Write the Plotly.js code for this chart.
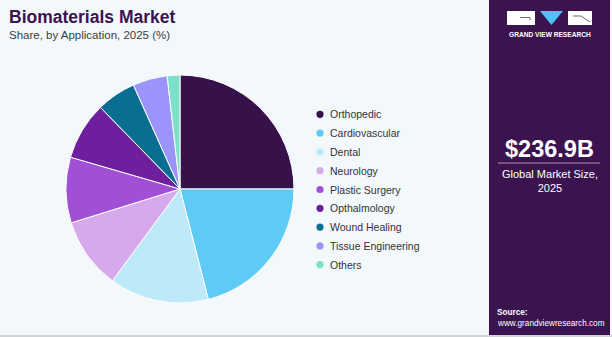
<!DOCTYPE html>
<html>
<head>
<meta charset="utf-8">
<script src="https://cdn.plot.ly/plotly-3.0.1.min.js"></script>
<style>
  html, body { margin: 0; padding: 0; background: #f3f8fb; }
  #chart { width: 612px; height: 337px; }
</style>
</head>
<body>
<div id="chart"></div>
<script>
// ---- data ----
const categories = ["Orthopedic", "Cardiovascular", "Dental", "Neurology", "Plastic Surgery",
                    "Opthalmology", "Wound Healing", "Tissue Engineering", "Others"];
const shares = [25.0, 21.0, 14.1, 10.1, 9.3, 8.2, 5.6, 4.9, 1.8];
const sliceColors = ["#37114a", "#5ecbf7", "#bde9f9", "#d5a9ec", "#a24fd7",
                     "#6d1f9d", "#0a6e92", "#9b95fb", "#7de0ca"];
const titleText = "Biomaterials Market";
const subtitleText = "Share, by Application, 2025 (%)";
const marketSize = "$236.9B";
const marketLabel = "Global Market Size,<br>2025";

// ---- helpers (pixel -> paper) ----
const W = 612, H = 337;
const px = x => x / W;
const py = y => 1 - y / H;

const shapes = [];
const annotations = [];
const FONT = "Liberation Sans, Arial, sans-serif";

// bottom frame line
shapes.push({type: "rect", xref: "paper", yref: "paper", x0: 0, x1: 1, y0: py(337), y1: py(335),
  fillcolor: "#cfd3d6", line: {width: 0}, layer: "below"});

// right panel
shapes.push({type: "rect", xref: "paper", yref: "paper", x0: px(489), x1: px(610), y0: py(335), y1: py(0),
  fillcolor: "#3a134f", line: {width: 0}, layer: "below"});

// logo
shapes.push({type: "rect", xref: "paper", yref: "paper", x0: px(507), x1: px(535), y0: py(25), y1: py(11),
  fillcolor: "#ffffff", line: {width: 0}});
shapes.push({type: "path", xref: "paper", yref: "paper",
  path: `M ${px(520)} ${py(17.5)} L ${px(530)} ${py(17.5)} L ${px(530)} ${py(20)}`,
  line: {color: "#6b6b7a", width: 1}});
shapes.push({type: "path", xref: "paper", yref: "paper",
  path: `M ${px(540)} ${py(11)} L ${px(563)} ${py(11)} L ${px(551.5)} ${py(25)} Z`,
  fillcolor: "#4cc3f5", line: {width: 0}});
shapes.push({type: "rect", xref: "paper", yref: "paper", x0: px(568), x1: px(592), y0: py(25), y1: py(11),
  fillcolor: "#ffffff", line: {width: 0}});
shapes.push({type: "path", xref: "paper", yref: "paper",
  path: `M ${px(573)} ${py(16)} L ${px(581)} ${py(16)} L ${px(590)} ${py(22)}`,
  line: {color: "#6b6b7a", width: 1}});
annotations.push({xref: "paper", yref: "paper", x: px(549.5), y: py(34), xanchor: "center", yanchor: "middle",
  text: "<b>GRAND VIEW RESEARCH</b>", showarrow: false,
  font: {family: FONT, size: 6.6, color: "#ffffff"}});

// market size
annotations.push({xref: "paper", yref: "paper", x: px(549.5), y: py(149.5), xanchor: "center", yanchor: "middle",
  text: "<b>" + marketSize + "</b>", showarrow: false,
  font: {family: FONT, size: 23.5, color: "#ffffff"}});
shapes.push({type: "line", xref: "paper", yref: "paper", x0: px(498), x1: px(600), y0: py(163), y1: py(163),
  line: {color: "#a994b8", width: 1}});
annotations.push({xref: "paper", yref: "paper", x: px(549.5), y: py(180.5), xanchor: "center", yanchor: "middle",
  text: marketLabel, showarrow: false, align: "center",
  font: {family: FONT, size: 11, color: "#ffffff"}});

// source
annotations.push({xref: "paper", yref: "paper", x: px(495), y: py(312), xanchor: "left", yanchor: "middle",
  text: "<b>Source:</b>", showarrow: false,
  font: {family: FONT, size: 8.2, color: "#ffffff"}});
annotations.push({xref: "paper", yref: "paper", x: px(495), y: py(323), xanchor: "left", yanchor: "middle",
  text: "www.grandviewresearch.com", showarrow: false,
  font: {family: FONT, size: 8.2, color: "#ffffff"}});

// titles
annotations.push({xref: "paper", yref: "paper", x: px(7), y: py(17), xanchor: "left", yanchor: "middle",
  text: "<b>" + titleText + "</b>", showarrow: false,
  font: {family: FONT, size: 17.5, color: "#3a134f"}});
annotations.push({xref: "paper", yref: "paper", x: px(7), y: py(35), xanchor: "left", yanchor: "middle",
  text: subtitleText, showarrow: false,
  font: {family: FONT, size: 11.5, color: "#3d3d3d"}});

// legend (circle markers + labels)
const legX = 320, legY0 = 114.3, legDy = 18.8, r = 3.6;
categories.forEach((name, i) => {
  const y = legY0 + i * legDy;
  shapes.push({type: "circle", xref: "paper", yref: "paper",
    x0: px(legX - r), x1: px(legX + r), y0: py(y + r), y1: py(y - r),
    fillcolor: sliceColors[i], line: {width: 0}});
  annotations.push({xref: "paper", yref: "paper", x: px(328), y: py(y), xanchor: "left", yanchor: "middle",
    text: name, showarrow: false,
    font: {family: FONT, size: 10.5, color: "#333333"}});
});

const trace = {
  type: "pie",
  labels: categories,
  values: shares,
  sort: false,
  direction: "clockwise",
  rotation: 0,
  marker: {colors: sliceColors, line: {color: "#ffffff", width: 1}},
  textinfo: "none",
  hoverinfo: "label+percent",
  showlegend: false,
  domain: {x: [px(66), px(294)], y: [py(303), py(75)]}
};

const layout = {
  width: W, height: H,
  margin: {l: 0, r: 0, t: 0, b: 0},
  paper_bgcolor: "#f3f8fb",
  plot_bgcolor: "#f3f8fb",
  showlegend: false,
  shapes: shapes,
  annotations: annotations
};

Plotly.newPlot("chart", [trace], layout, {displayModeBar: false, staticPlot: true});
</script>
</body>
</html>
